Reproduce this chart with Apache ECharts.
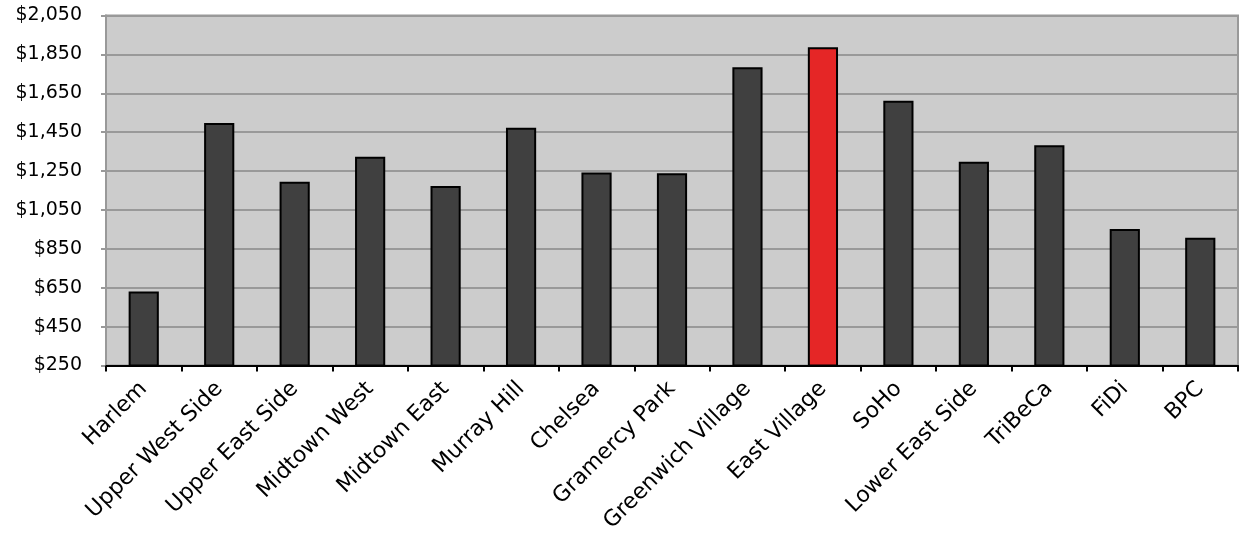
<!DOCTYPE html>
<html>
<head>
<meta charset="utf-8">
<script src="https://cdn.jsdelivr.net/npm/echarts@6/dist/echarts.min.js"></script>
<style>
  html, body { margin: 0; padding: 0; background: #ffffff; }
  #chart { width: 1241px; height: 550px; }
</style>
</head>
<body>
<div id="chart"></div>
<script>
// Average rent by Manhattan neighbourhood
const neighborhoods = [
  'Harlem', 'Upper West Side', 'Upper East Side', 'Midtown West', 'Midtown East',
  'Murray Hill', 'Chelsea', 'Gramercy Park', 'Greenwich Village', 'East Village',
  'SoHo', 'Lower East Side', 'TriBeCa', 'FiDi', 'BPC'
];
const rents = [630, 1497, 1195, 1324, 1173, 1473, 1243, 1239, 1784, 1887, 1612, 1298, 1383, 952, 907];
const highlighted = 'East Village';

const yMin = 250;
const yMax = 2050;
const yStep = 200;

const fontFamily = '"DejaVu Sans", "Liberation Sans", sans-serif';

const chart = echarts.init(document.getElementById('chart'), null, { renderer: 'canvas' });

chart.setOption({
  animation: false,
  grid: {
    left: 106, right: 3, top: 15.5, bottom: 184.5,
    show: true,
    backgroundColor: '#cccccc',
    borderColor: '#999999',
    borderWidth: 2
  },
  xAxis: {
    type: 'category',
    data: neighborhoods,
    axisLine: { show: true, lineStyle: { color: '#000000', width: 2 } },
    axisTick: { show: true, inside: false, length: 6, lineStyle: { color: '#000000', width: 2 } },
    axisLabel: {
      rotate: 45,
      interval: 0,
      margin: 20,
      color: '#000000',
      fontFamily: fontFamily,
      fontSize: 22
    },
    splitLine: { show: false }
  },
  yAxis: {
    type: 'value',
    min: yMin,
    max: yMax,
    interval: yStep,
    axisLine: { show: true, lineStyle: { color: '#999999', width: 2 } },
    axisTick: { show: true, length: 5, lineStyle: { color: '#999999', width: 2 } },
    axisLabel: {
      margin: 24,
      color: '#000000',
      fontFamily: fontFamily,
      fontSize: 19,
      formatter: v => '$' + v.toLocaleString('en-US')
    },
    splitLine: { show: true, lineStyle: { color: '#999999', width: 2 } }
  },
  series: [{
    type: 'bar',
    barWidth: '40%',
    data: rents.map((v, i) => ({
      value: v,
      itemStyle: { color: neighborhoods[i] === highlighted ? '#e52626' : '#404040' }
    })),
    itemStyle: { borderColor: '#000000', borderWidth: 2 }
  }]
});
</script>
</body>
</html>
